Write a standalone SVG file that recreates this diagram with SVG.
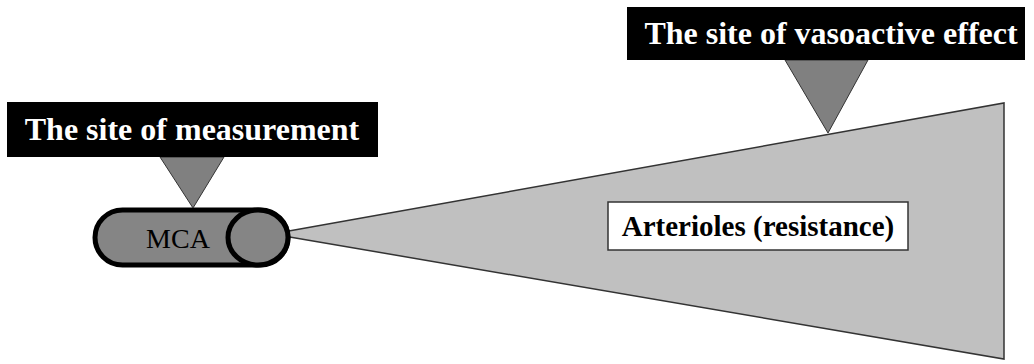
<svg xmlns="http://www.w3.org/2000/svg" width="1034" height="364" viewBox="0 0 1034 364">
<style>
.lbl{fill:#000}
.lt{font-family:"Liberation Serif",serif;font-weight:bold;font-size:32px;fill:#fff;text-anchor:middle}
.ptr{fill:#808080;stroke:#333;stroke-width:1}
</style>
<rect width="1034" height="364" fill="#fff"/>
<g id="arterioles">
<polygon points="272,234 1004,103 1004,359" fill="#c0c0c0" stroke="#333" stroke-width="1.5"/>
<rect x="608" y="202" width="300" height="48" fill="#fff" stroke="#333" stroke-width="1.5"/>
<text x="758" y="236" font-family="Liberation Serif,serif" font-weight="bold" font-size="29" text-anchor="middle" fill="#000">Arterioles (resistance)</text>
</g>
<g id="mca">
<rect x="95" y="210" width="193" height="55" rx="27.5" fill="#858585" stroke="#000" stroke-width="5"/>
<ellipse cx="258" cy="237.5" rx="30" ry="27.5" fill="#858585" stroke="#000" stroke-width="5"/>
<text x="178" y="248" font-family="Liberation Serif,serif" font-size="28" text-anchor="middle" fill="#000">MCA</text>
</g>
<g id="connectors">
<polygon class="ptr" points="160,157 224,157 193,208"/>
<polygon class="ptr" points="785,60 868,60 828,133"/>
</g>
<g id="measurement">
<rect class="lbl" x="7" y="102" width="371" height="55"/>
<text class="lt" x="192" y="140">The site of measurement</text>
</g>
<g id="vasoactive">
<rect class="lbl" x="627" y="7" width="398" height="53"/>
<text class="lt" x="831" y="44">The site of vasoactive effect</text>
</g>
</svg>
